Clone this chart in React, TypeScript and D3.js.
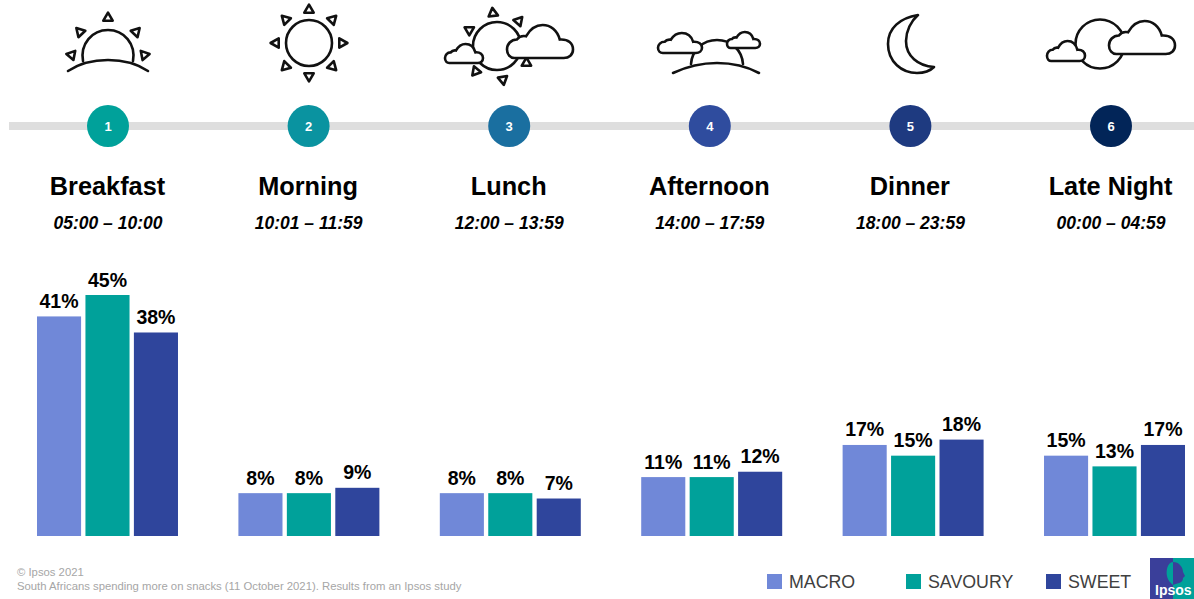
import React from "react";
import * as d3 from "d3";

const width = 1194;
const height = 599;

const categories = ["Breakfast", "Morning", "Lunch", "Afternoon", "Dinner", "Late Night"];
const timeRanges = [
  "05:00 – 10:00",
  "10:01 – 11:59",
  "12:00 – 13:59",
  "14:00 – 17:59",
  "18:00 – 23:59",
  "00:00 – 04:59",
];
const stepColors = ["#00a19a", "#0a93a0", "#1a6fa0", "#2f4c9e", "#1e3a80", "#022558"];

const seriesNames = ["MACRO", "SAVOURY", "SWEET"];
const seriesColors = ["#7088d8", "#00a19a", "#2f459c"];
const macro = [41, 8, 8, 11, 17, 15];
const savoury = [45, 8, 8, 11, 15, 13];
const sweet = [38, 9, 7, 12, 18, 17];
const seriesValues = [macro, savoury, sweet];

const legendSquares = [767, 906, 1046];

const font = "'Liberation Sans', Arial, sans-serif";
const baseline = 536;

const x0 = d3.scaleBand<string>().domain(categories).range([37, 1185]).paddingInner(0.3);
const x1 = d3
  .scaleBand<string>()
  .domain(seriesNames)
  .range([0, x0.bandwidth()])
  .paddingInner(0.09);
const y = d3.scaleLinear().domain([0, 45]).range([baseline, 295]);
const stepX = d3.scalePoint<string>().domain(categories).range([108, 1111]);

const CLOUD =
  "M11 50 H86 C94 50 100 45 100 37 C100 28 93 21 80 22 C76 8 66 0 54 0 C42 0 34 8 29 17 C24 16 18 18 15 22 C6 22 0 29 0 37 C0 45 5 50 11 50 Z";

const Cloud = ({ x, y: top, w, h }: { x: number; y: number; w: number; h: number }) => (
  <path
    d={CLOUD}
    transform={`translate(${x},${top}) scale(${w / 100},${h / 50})`}
    fill="#fff"
    stroke="#111"
    strokeWidth={2.6}
    vectorEffect="non-scaling-stroke"
  />
);

const triangle = d3.symbol().type(d3.symbolTriangle).size(38)()!;

// rays sit around the sun, angle 0 = straight up
const Rays = ({ cx, cy, rays }: { cx: number; cy: number; rays: [number, number][] }) => (
  <g>
    {rays.map(([a, r]) => {
      const t = (a * Math.PI) / 180;
      return (
        <path
          key={a}
          d={triangle}
          transform={`translate(${cx + r * Math.sin(t)},${cy - r * Math.cos(t)}) rotate(${a})`}
          fill="#fff"
          stroke="#111"
          strokeWidth={2.6}
          strokeLinejoin="round"
        />
      );
    })}
  </g>
);

const Icons = () => (
  <g fill="none" stroke="#111" strokeWidth={2.6} strokeLinecap="round">
    {/* sunrise */}
    <Rays cx={108} cy={62} rays={[[0, 44], [-43, 41], [43, 41], [-79, 37], [79, 37]]} />
    <path d="M83 61 C80 44 92 30 108 30 C124 30 136 44 133 61" />
    <path d="M68 71 C80 63 92 60 108 60 C124 60 136 63 148 71" />

    {/* sun */}
    <circle cx={309} cy={43} r={23} />
    <Rays cx={309} cy={43} rays={[[0, 33], [45, 33], [90, 33], [135, 33], [180, 33], [225, 33], [270, 33], [315, 33]]} />

    {/* sun and clouds */}
    <circle cx={497} cy={46} r={24} />
    <Rays cx={497} cy={46} rays={[[-7, 33], [41, 33], [-60, 32], [-140, 33], [170, 34], [120, 34]]} />
    <Cloud x={445} y={44} w={38} h={19} />
    <Cloud x={507} y={25} w={66} h={33} />

    {/* afternoon */}
    <path d="M691 64 C692 50 703 40 717 40 C731 40 742 50 743 64" />
    <path d="M673 73 C688 66 702 63 717 63 C732 63 746 66 759 73" />
    <Cloud x={658} y={33} w={44} h={20} />
    <Cloud x={727} y={32} w={33} h={16} />

    {/* moon */}
    <path
      d="M918 15 C900 18 888 28 888 44 C888 62 902 73 917 73 C924 73 930 71 934 67 C918 66 906 56 906 41 C906 31 911 21 918 15 Z"
      strokeLinejoin="round"
    />

    {/* moon and clouds */}
    <circle cx={1100} cy={44} r={24.5} />
    <Cloud x={1047} y={41} w={38} h={20} />
    <Cloud x={1109} y={21} w={66} h={33} />
  </g>
);

const Logo = () => (
  <g>
    <rect x={1150} y={558} width={23} height={41} fill="#3a3f9a" />
    <rect x={1173} y={558} width={21} height={41} fill="#00a19a" />
    <path d="M1173 562 C1167 562 1166 572 1167 576 C1168 581 1171 583 1173 585 Z" fill="#00a19a" />
    <path d="M1173 562 C1179 562 1183 567 1183 572 L1185 576 L1183 578 C1183 583 1178 583 1173 585 Z" fill="#3a3f9a" />
    <text x={1155} y={595} fontFamily={font} fontWeight={700} fontSize={14} fill="#fff">
      Ipsos
    </text>
  </g>
);

export default function App() {
  return (
    <svg
      width={width}
      height={height}
      viewBox={`0 0 ${width} ${height}`}
      style={{ position: "absolute", left: 0, top: 0, background: "#fff" }}
    >
      <Icons />

      <rect x={9} y={122} width={1185} height={8} fill="#dedede" />
      {categories.map((c, i) => (
        <g key={c} textAnchor="middle" fontFamily={font}>
          <circle cx={stepX(c)} cy={126} r={21} fill={stepColors[i]} />
          <text x={stepX(c)} y={131} fontSize={13} fontWeight={700} fill="#fff">
            {i + 1}
          </text>
          <text x={stepX(c)! - 0.5} y={195} fontSize={25.3} fontWeight={700} fill="#000">
            {c}
          </text>
          <text x={stepX(c)} y={229} fontSize={17.5} fontWeight={700} fontStyle="italic" fill="#000">
            {timeRanges[i]}
          </text>
        </g>
      ))}

      {categories.map((c, i) => (
        <g key={c} transform={`translate(${x0(c)},0)`}>
          {seriesNames.map((s, j) => {
            const v = seriesValues[j][i];
            return (
              <g key={s}>
                <rect
                  x={x1(s)}
                  y={y(v)}
                  width={x1.bandwidth()}
                  height={baseline - y(v)}
                  fill={seriesColors[j]}
                />
                <text
                  x={x1(s)! + x1.bandwidth() / 2}
                  y={y(v) - 8.5}
                  textAnchor="middle"
                  fontFamily={font}
                  fontSize={19.5}
                  fontWeight={700}
                  fill="#000"
                >
                  {v}%
                </text>
              </g>
            );
          })}
        </g>
      ))}

      <g fontFamily={font} fill="#a6a6a6" fontSize={11.3}>
        <text x={17} y={576}>© Ipsos 2021</text>
        <text x={17} y={590}>South Africans spending more on snacks (11 October 2021). Results from an Ipsos study</text>
      </g>

      {seriesNames.map((s, j) => (
        <g key={s}>
          <rect x={legendSquares[j]} y={574} width={15} height={15} fill={seriesColors[j]} />
          <text x={legendSquares[j] + 22} y={588} fontFamily={font} fontSize={17.8} fill="#404040">
            {s}
          </text>
        </g>
      ))}

      <Logo />
    </svg>
  );
}
